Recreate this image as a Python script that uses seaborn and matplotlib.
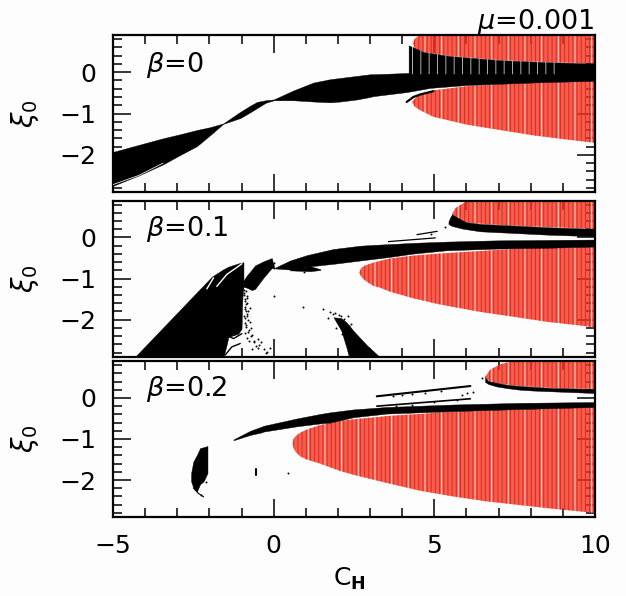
import numpy as np
import matplotlib
matplotlib.use("Agg")
import matplotlib.pyplot as plt
import matplotlib.ticker as ticker
import seaborn as sns

# values: C_H along x, xi_0 limits along y
# --- beta = 0
b0_band_x = [-5, -4.2, -3.44, -2.9, -2.39, -1.97, -1.57, -1.04, -0.75, -0.52, -0.25, 0, 0.62, 1.24, 1.76, 2.07, 2.59, 3.0, 3.1, 4.15, 4.87, 6.01, 7.05, 8.39, 10]
b0_band_hi = [-1.93, -1.76, -1.6, -1.5, -1.4, -1.33, -1.24, -0.96, -0.82, -0.72, -0.68, -0.66, -0.44, -0.25, -0.17, -0.14, -0.09, -0.05, -0.05, -0.02, 0.0, 0.0, 0.0, 0.0, 0.0]
b0_band_lo = [-2.75, -2.5, -2.23, -2.0, -1.79, -1.52, -1.25, -1.11, -0.98, -0.87, -0.74, -0.68, -0.68, -0.71, -0.73, -0.71, -0.66, -0.6, -0.58, -0.48, -0.38, -0.31, -0.28, -0.24, -0.21]
b0_stripe_x = [4.2, 4.66, 5.49, 7.05, 8.6, 10]
b0_stripe_hi = [0.65, 0.49, 0.39, 0.29, 0.24, 0.21]
b0_stripe_lo = [-0.1, -0.1, -0.1, -0.1, -0.1, -0.1]
b0_white_x = [4.2, 4.66, 5.49, 7.05, 8.6, 8.9]
b0_white_hi = [0.65, 0.49, 0.39, 0.29, 0.24, 0.24]
b0_white_lo = [-0.05, -0.05, -0.05, -0.05, -0.05, -0.05]
b0_arc_x = [4.14, 4.35, 4.56, 4.97]
b0_arc_y = [-0.72, -0.6, -0.54, -0.46]
b0_top_x = [4.33, 4.4, 4.56, 4.66, 5.49, 7.05, 8.6, 10]
b0_top_hi = [0.7, 0.82, 0.9, 0.9, 0.9, 0.9, 0.9, 0.9]
b0_top_lo = [0.7, 0.57, 0.52, 0.49, 0.39, 0.29, 0.24, 0.21]
b0_low_x = [4.3, 4.4, 4.46, 4.56, 4.97, 6.01, 7.05, 8.09, 9.13, 10]
b0_low_hi = [-0.72, -0.64, -0.58, -0.54, -0.44, -0.34, -0.29, -0.25, -0.23, -0.21]
b0_low_lo = [-0.72, -0.84, -0.87, -0.92, -1.08, -1.27, -1.4, -1.53, -1.63, -1.71]
b0_gap_x = [-5, -4.2, -3.44]
b0_gap_y = [-2.72, -2.5, -2.2]

# --- beta = 0.1
b1_wedge_x = [-4.31, -1.92, -1.56, -1.46, -1.41, -1.1, -1.0, -0.98, -0.94]
b1_wedge_hi = [-2.9, -0.95, -0.77, -0.73, -0.71, -0.63, -0.61, -0.61, -0.6]
b1_wedge_lo = [-2.9, -2.9, -2.9, -2.6, -2.42, -2.34, -2.22, -1.6, -1.05]
b1_blob_x = [-0.98, -0.94, -0.84, -0.68, -0.58, -0.32, -0.06, 0.02]
b1_blob_hi = [-1.0, -1.05, -0.93, -0.78, -0.68, -0.58, -0.5, -0.73]
b1_blob_lo = [-1.3, -1.2, -1.22, -1.28, -1.25, -0.98, -0.74, -0.76]
b1_hump_x = [1.86, 2.1, 2.26, 2.34, 2.47, 2.9, 3.29]
b1_hump_hi = [-1.94, -1.96, -2.06, -2.13, -2.26, -2.62, -2.9]
b1_hump_lo = [-1.94, -2.26, -2.66, -2.9, -2.9, -2.9, -2.9]
b1_band_x = [0, 0.51, 1.03, 1.14, 1.86, 2.07, 2.69, 3.11, 3.63, 4.35, 5.39, 6.94, 8.5, 10]
b1_band_hi = [-0.75, -0.56, -0.43, -0.41, -0.28, -0.26, -0.2, -0.18, -0.16, -0.13, -0.1, -0.07, -0.06, -0.05]
b1_band_lo = [-0.75, -0.78, -0.71, -0.7, -0.64, -0.62, -0.56, -0.52, -0.47, -0.39, -0.31, -0.27, -0.25, -0.22]
b1_tail_x = [0.51, 1.14, 1.45]
b1_tail_hi = [-0.76, -0.7, -0.77]
b1_tail_lo = [-0.8, -0.82, -0.79]
b1_rim_x = [5.44, 5.5, 5.55, 5.91, 6.01, 6.43, 6.94, 7.48, 7.99, 8.5, 10]
b1_rim_hi = [0.39, 0.5, 0.56, 0.4, 0.37, 0.33, 0.31, 0.29, 0.27, 0.25, 0.21]
b1_rim_lo = [0.33, 0.3, 0.28, 0.21, 0.2, 0.15, 0.13, 0.11, 0.09, 0.07, 0.03]
b1_top_x = [5.55, 5.65, 5.91, 6.17, 6.94, 7.99, 10]
b1_top_hi = [0.56, 0.71, 0.84, 0.9, 0.9, 0.9, 0.9]
b1_top_lo = [0.56, 0.42, 0.38, 0.35, 0.31, 0.27, 0.21]
b1_low_x = [2.66, 2.74, 2.85, 3.11, 3.31, 3.63, 4.35, 5.18, 6.43, 7.48, 8.5, 9.64, 10]
b1_low_hi = [-0.85, -0.73, -0.68, -0.61, -0.57, -0.51, -0.44, -0.39, -0.33, -0.28, -0.25, -0.23, -0.22]
b1_low_lo = [-0.85, -0.97, -1.05, -1.18, -1.22, -1.32, -1.48, -1.63, -1.81, -1.93, -2.05, -2.15, -2.19]
b1_streak_a_x = [3.57, 5.03]
b1_streak_a_y = [-0.1, -0.01]
b1_streak_b_x = [4.46, 5.09]
b1_streak_b_y = [0.07, 0.15]
b1_white_a_x = [-2.08, -1.87]
b1_white_a_y = [-1.25, -0.98]
b1_white_b_x = [-1.77, -1.46, -0.99]
b1_white_b_y = [-1.19, -0.9, -0.64]
b1_strand_a_x = [-1.51, -1.3, -1.04]
b1_strand_a_y = [-2.86, -2.66, -2.58]
b1_strand_b_x = [-1.46, -1.25, -0.99]
b1_strand_b_y = [-2.38, -2.46, -2.34]
b1_speck_x = [-0.92, -0.88, -0.85, -0.9, -0.83, -0.8, -0.86, -0.78, -0.7, -0.6, -0.45, -0.3, -0.82, -0.75, -0.55, -0.2, 0.0, 0.9, 1.55, 1.7, 2.0, 2.3, 2.42, 0.02, 0.95, 4.9, 5.34,
              -0.93, -0.91, -0.89, -0.87, -0.84, -0.9, -0.86, -0.82, -0.92, -0.88, -0.84, -0.79, -0.9, -0.85, -0.8, -0.74, -0.88, -0.82, -0.72, -0.66, -0.78, -0.62, -0.5, -0.38, -0.66, -0.5, -0.25, -0.1,
              1.75, 1.85, 1.92, 2.02, 2.1, 2.2, 2.35, 2.48, 1.95, 2.12, 2.28, 2.38]
b1_speck_y = [-1.35, -1.5, -1.62, -1.75, -1.85, -2.0, -2.12, -2.25, -2.4, -2.52, -2.62, -2.72, -1.42, -1.72, -2.65, -2.78, -1.42, -1.68, -1.75, -1.95, -2.05, -1.9, -2.1, -0.62, -0.85, 0.08, 0.25,
              -1.28, -1.4, -1.55, -1.3, -1.48, -1.68, -1.8, -1.6, -1.92, -1.96, -1.9, -1.78, -2.08, -2.18, -2.3, -2.05, -2.32, -2.44, -2.2, -2.38, -2.52, -2.55, -2.48, -2.55, -2.72, -2.68, -2.8, -2.7,
              -1.82, -1.86, -1.84, -1.88, -1.9, -1.98, -2.15, -2.3, -2.2, -2.35, -2.5, -2.62]

# --- beta = 0.2
b2_blob_x = [-2.57, -2.5, -2.39, -2.29, -2.18, -2.06]
b2_blob_hi = [-1.83, -1.55, -1.39, -1.22, -1.2, -1.17]
b2_blob_lo = [-2.03, -2.19, -2.28, -2.1, -2.03, -1.83]
b2_tail_x = [-2.5, -2.35, -2.18]
b2_tail_y = [-2.19, -2.32, -2.41]
b2_mark_x = [-0.54, -0.54]
b2_mark_y = [-1.73, -1.87]
b2_band_x = [-1.25, -0.73, -0.38, -0.32, 0.72, 1.45, 1.76, 2.48, 3.52, 5.59, 7.67, 10]
b2_band_hi = [-1.01, -0.8, -0.7, -0.68, -0.5, -0.39, -0.35, -0.28, -0.22, -0.16, -0.12, -0.1]
b2_band_lo = [-1.03, -0.9, -0.84, -0.82, -0.69, -0.62, -0.6, -0.47, -0.38, -0.32, -0.27, -0.22]
b2_streak_a_x = [3.21, 6.12]
b2_streak_a_y = [0.04, 0.29]
b2_streak_b_x = [3.21, 6.12]
b2_streak_b_y = [-0.2, -0.02]
b2_rim_x = [6.58, 6.68, 6.94, 7.26, 7.67, 8.08, 8.7, 10]
b2_rim_hi = [0.51, 0.41, 0.37, 0.32, 0.29, 0.27, 0.24, 0.22]
b2_rim_lo = [0.39, 0.34, 0.28, 0.24, 0.2, 0.18, 0.16, 0.12]
b2_top_x = [6.58, 6.74, 7.05, 7.46, 8.08, 8.92, 10]
b2_top_hi = [0.51, 0.69, 0.82, 0.9, 0.9, 0.9, 0.9]
b2_top_lo = [0.51, 0.39, 0.35, 0.3, 0.27, 0.23, 0.22]
b2_low_x = [0.59, 0.62, 0.67, 0.82, 1.03, 1.45, 2.07, 2.48, 3.31, 3.52, 4.56, 5.59, 6.64, 7.67, 8.7, 10]
b2_low_hi = [-1.1, -1.0, -0.94, -0.85, -0.77, -0.66, -0.56, -0.52, -0.46, -0.44, -0.39, -0.33, -0.3, -0.28, -0.25, -0.22]
b2_low_lo = [-1.1, -1.22, -1.3, -1.42, -1.5, -1.6, -1.78, -1.87, -2.03, -2.07, -2.26, -2.4, -2.52, -2.61, -2.7, -2.8]
b2_speck_x = [0.45, 5.86, 6.01, 6.2, 6.48, 3.7, 4.0, 4.3, 4.7, 5.2, 3.8, 4.3, 5.0, 5.7, -2.1, -2.25]
b2_speck_y = [-1.82, 0.08, 0.11, 0.14, 0.49, 0.04, 0.06, 0.1, 0.13, 0.17, -0.19, -0.16, -0.09, -0.05, -2.05, -2.37]

RED_PALE = (0.93, 0.2, 0.13, 0.78)
RED_DARK = "#ee2412"

sns.set_style("ticks", {"text.color": "black", "axes.labelcolor": "black", "axes.edgecolor": "black",
                        "xtick.color": "black", "ytick.color": "black"})
plt.rcParams["font.family"] = ["DejaVu Sans"]
plt.rcParams["mathtext.fontset"] = "dejavusans"
plt.rcParams["hatch.linewidth"] = 0.7


def black_area(ax, x, lo, hi):
    ax.fill_between(x, lo, hi, facecolor="black", edgecolor="black", linewidth=0.3, zorder=2)


def red_area(ax, x, lo, hi):
    ax.fill_between(x, lo, hi, facecolor=RED_PALE, edgecolor=RED_DARK, hatch="||||", linewidth=0, zorder=1)
    ax.fill_between(x, lo, hi, facecolor="none", edgecolor="#fbd0c8", hatch="|", linewidth=0, zorder=1.1)


def thin_line(ax, x, y, color="black", lw=1.0):
    sns.lineplot(x=x, y=y, ax=ax, color=color, linewidth=lw, sort=False, estimator=None, legend=False, zorder=3)


def specks(ax, x, y):
    sns.scatterplot(x=x, y=y, ax=ax, color="black", s=2, linewidth=0, legend=False, zorder=3)


fig = plt.figure(figsize=(6.26, 5.96), dpi=100, facecolor="#fdfdfd")
boxes = [(35, 192), (200.5, 356.7), (361, 517)]
axes = []
for top, bottom in boxes:
    ax = fig.add_axes([113 / 626, 1 - bottom / 596, 482 / 626, (bottom - top) / 596], facecolor="#fdfdfd")
    axes.append(ax)

# beta = 0
ax = axes[0]
red_area(ax, b0_top_x, b0_top_lo, b0_top_hi)
red_area(ax, b0_low_x, b0_low_lo, b0_low_hi)
black_area(ax, b0_band_x, b0_band_lo, b0_band_hi)
black_area(ax, b0_stripe_x, b0_stripe_lo, b0_stripe_hi)
ax.fill_between(b0_white_x, b0_white_lo, b0_white_hi, facecolor="none", edgecolor="#b0b0b0", hatch="||", linewidth=0, zorder=2.5)
thin_line(ax, b0_arc_x, b0_arc_y, lw=1.6)
thin_line(ax, b0_gap_x, b0_gap_y, color="#e8e8e8", lw=0.6)

# beta = 0.1
ax = axes[1]
red_area(ax, b1_top_x, b1_top_lo, b1_top_hi)
red_area(ax, b1_low_x, b1_low_lo, b1_low_hi)
black_area(ax, b1_wedge_x, b1_wedge_lo, b1_wedge_hi)
black_area(ax, b1_blob_x, b1_blob_lo, b1_blob_hi)
black_area(ax, b1_hump_x, b1_hump_lo, b1_hump_hi)
black_area(ax, b1_band_x, b1_band_lo, b1_band_hi)
black_area(ax, b1_tail_x, b1_tail_lo, b1_tail_hi)
black_area(ax, b1_rim_x, b1_rim_lo, b1_rim_hi)
thin_line(ax, b1_streak_a_x, b1_streak_a_y, lw=0.9)
thin_line(ax, b1_streak_b_x, b1_streak_b_y, lw=0.9)
thin_line(ax, b1_white_a_x, b1_white_a_y, color="white", lw=1.0)
thin_line(ax, b1_white_b_x, b1_white_b_y, color="white", lw=1.0)
thin_line(ax, b1_strand_a_x, b1_strand_a_y, lw=1.0)
thin_line(ax, b1_strand_b_x, b1_strand_b_y, lw=1.0)
specks(ax, b1_speck_x, b1_speck_y)

# beta = 0.2
ax = axes[2]
red_area(ax, b2_top_x, b2_top_lo, b2_top_hi)
red_area(ax, b2_low_x, b2_low_lo, b2_low_hi)
black_area(ax, b2_blob_x, b2_blob_lo, b2_blob_hi)
black_area(ax, b2_band_x, b2_band_lo, b2_band_hi)
black_area(ax, b2_rim_x, b2_rim_lo, b2_rim_hi)
thin_line(ax, b2_tail_x, b2_tail_y, lw=0.8)
thin_line(ax, b2_mark_x, b2_mark_y, lw=1.5)
thin_line(ax, b2_streak_a_x, b2_streak_a_y, lw=1.5)
thin_line(ax, b2_streak_b_x, b2_streak_b_y, lw=1.2)
specks(ax, b2_speck_x, b2_speck_y)

for i, ax in enumerate(axes):
    ax.set_xlim(-5, 10)
    ax.set_ylim(-2.9, 0.9)
    ax.set_axisbelow(True)
    ax.xaxis.set_major_locator(ticker.MultipleLocator(5))
    ax.xaxis.set_minor_locator(ticker.MultipleLocator(1))
    ax.yaxis.set_major_locator(ticker.MultipleLocator(1))
    ax.yaxis.set_minor_locator(ticker.MultipleLocator(0.2))
    ax.tick_params(which="major", direction="in", length=13, width=1.1, top=True, right=True,
                   labelsize=18, pad=12, labelbottom=(i == 2))
    ax.tick_params(which="minor", direction="in", length=6.5, width=1.1, top=True, right=True)
    for side in ax.spines.values():
        side.set_linewidth(1.6)
    ax.set_ylabel(r"$\xi_0$", fontsize=20)
    ax.yaxis.set_label_coords(-0.15, 0.5)
    ax.set_xlabel("")

axes[2].set_xlabel(r"C$_{\mathbf{H}}$", fontsize=18)
axes[2].xaxis.set_label_coords(0.49, -0.31)

labels = [r"$\beta$=0", r"$\beta$=0.1", r"$\beta$=0.2"]
label_y = [0.764, 0.775, 0.776]
for ax, text, y in zip(axes, labels, label_y):
    ax.text(0.068, y, text, transform=ax.transAxes, fontsize=19.5, va="baseline", ha="left")
axes[0].text(0.999, 1.038, r"$\mu$=0.001", transform=axes[0].transAxes, fontsize=19.5, va="baseline", ha="right")

fig.savefig("out.png", dpi=100, facecolor=fig.get_facecolor())
